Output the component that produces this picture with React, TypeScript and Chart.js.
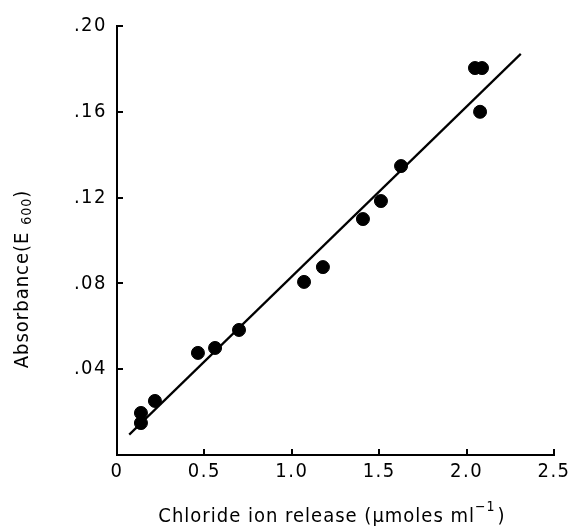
import React, { useEffect, useRef } from "react";
import { Chart, registerables } from "chart.js";

Chart.register(...registerables);

const chlorideX = [0.137, 0.137, 0.217, 0.463, 0.561, 0.698, 1.07, 1.178, 1.407, 1.51, 1.625, 2.048, 2.088, 2.077];
const absorbanceY = [0.0196, 0.0149, 0.0252, 0.0476, 0.0499, 0.0583, 0.0807, 0.0876, 0.110, 0.1184, 0.1347, 0.1804, 0.1804, 0.160];
const fitX = [0.07, 2.31];
const fitY = [0.0095, 0.187];
const xTicks = [0, 0.5, 1.0, 1.5, 2.0, 2.5];
const yTicks = [0.04, 0.08, 0.12, 0.16, 0.2];
const xTitleMain = "Chloride ion release (\u03bcmoles ml";
const xTitleSup = "\u22121";
const xTitleEnd = ")";
const yTitleMain = "Absorbance(E ";
const yTitleSub = "600";
const yTitleEnd = ")";

const FONT = "'DejaVu Sans Condensed', 'DejaVu Sans', sans-serif";

const decorPlugin = {
  id: "decor",
  beforeDraw(chart: any) {
    const ctx = chart.ctx;
    try { (ctx as any).letterSpacing = "1.5px"; } catch (e) {}
  },
  afterDraw(chart: any) {
    const ctx = chart.ctx;
    const xs = chart.scales.x;
    const ys = chart.scales.y;
    const area = chart.chartArea;
    ctx.save();
    ctx.strokeStyle = "#000";
    ctx.lineWidth = 2;
    ctx.beginPath();
    yTicks.forEach((v) => {
      const py = Math.round(ys.getPixelForValue(v));
      ctx.moveTo(area.left, py);
      ctx.lineTo(area.left + 6, py);
    });
    xTicks.forEach((v) => {
      if (v === 0) return;
      const px = Math.round(xs.getPixelForValue(v));
      ctx.moveTo(px, area.bottom);
      ctx.lineTo(px, area.bottom - 6);
    });
    ctx.stroke();

    // x title
    ctx.fillStyle = "#000";
    try { (ctx as any).letterSpacing = "1px"; } catch (e) {}
    ctx.textBaseline = "alphabetic";
    ctx.textAlign = "left";
    const mainFont = "20px " + FONT;
    const smallFont = "14px " + FONT;
    ctx.font = mainFont;
    const w1 = ctx.measureText(xTitleMain).width;
    const w3 = ctx.measureText(xTitleEnd).width;
    ctx.font = smallFont;
    const w2 = ctx.measureText(xTitleSup).width;
    const total = w1 + w2 + w3 + 2;
    const cx = 332;
    let x0 = cx - total / 2;
    const by = 522;
    ctx.font = mainFont;
    ctx.fillText(xTitleMain, x0, by);
    ctx.font = smallFont;
    ctx.fillText(xTitleSup, x0 + w1, by - 11);
    ctx.font = mainFont;
    ctx.fillText(xTitleEnd, x0 + w1 + w2 + 2, by);

    // y title
    ctx.save();
    ctx.translate(28, 279);
    ctx.rotate(-Math.PI / 2);
    ctx.font = mainFont;
    const a1 = ctx.measureText(yTitleMain).width;
    const a3 = ctx.measureText(yTitleEnd).width;
    ctx.font = smallFont;
    const a2 = ctx.measureText(yTitleSub).width;
    const tot = a1 + a2 + a3;
    let s = -tot / 2;
    ctx.font = mainFont;
    ctx.fillText(yTitleMain, s, 0);
    ctx.font = smallFont;
    ctx.fillText(yTitleSub, s + a1, 3);
    ctx.font = mainFont;
    ctx.fillText(yTitleEnd, s + a1 + a2, 0);
    ctx.restore();
    ctx.restore();
  },
};

export default function App() {
  const ref = useRef<HTMLCanvasElement | null>(null);
  useEffect(() => {
    document.body.style.margin = "0";
    const canvas = ref.current!;
    const chart = new Chart(canvas, {
      type: "scatter",
      data: {
        datasets: [
          {
            type: "line",
            data: fitX.map((x, i) => ({ x, y: fitY[i] })),
            borderColor: "#000",
            borderWidth: 2.2,
            pointRadius: 0,
            fill: false,
          } as any,
          {
            data: chlorideX.map((x, i) => ({ x, y: absorbanceY[i] })),
            backgroundColor: "#000",
            borderColor: "#000",
            pointRadius: 6.5,
            pointHoverRadius: 6.5,
          },
        ],
      },
      options: {
        responsive: false,
        animation: false,
        events: [],
        layout: { padding: { top: 26, right: 14, left: 0, bottom: 0 } },
        plugins: { legend: { display: false }, tooltip: { enabled: false } },
        scales: {
          x: {
            type: "linear",
            min: 0,
            max: 2.5,
            afterFit: (s: any) => { s.height = 72; s.paddingRight = 0; s.paddingLeft = 0; },
            afterBuildTicks: (s: any) => { s.ticks = xTicks.map((v) => ({ value: v })); },
            grid: { display: false, drawTicks: false },
            border: { display: true, color: "#000", width: 2 },
            ticks: {
              padding: 5,
              color: "#000",
              font: { family: FONT, size: 20 },
              maxRotation: 0,
              callback: (v: any) => (v === 0 ? "0" : Number(v).toFixed(1)),
            },
          },
          y: {
            type: "linear",
            min: 0,
            max: 0.2,
            afterFit: (s: any) => { s.width = 117; s.paddingTop = 0; s.paddingBottom = 0; },
            afterBuildTicks: (s: any) => { s.ticks = yTicks.map((v) => ({ value: v })); },
            grid: { display: false, drawTicks: false },
            border: { display: true, color: "#000", width: 2 },
            ticks: {
              padding: 10,
              color: "#000",
              font: { family: FONT, size: 20 },
              callback: (v: any) => "." + String(Math.round(Number(v) * 100)).padStart(2, "0"),
            },
          },
        },
      },
      plugins: [decorPlugin],
    });
    return () => chart.destroy();
  }, []);
  return (
    <div style={{ width: 568, height: 527, background: "#fff" }}>
      <canvas ref={ref} width={568} height={527} style={{ display: "block" }} />
    </div>
  );
}
